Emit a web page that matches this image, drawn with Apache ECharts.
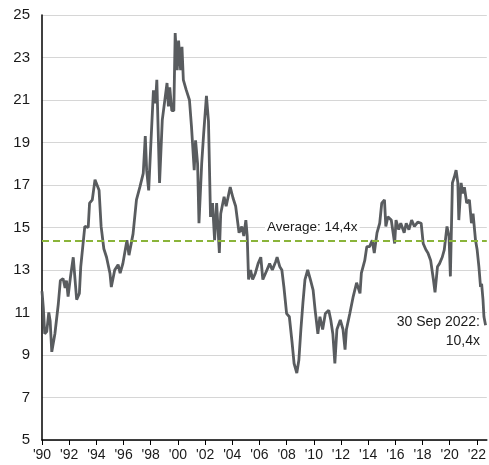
<!DOCTYPE html>
<html>
<head>
<meta charset="utf-8">
<script src="https://cdn.jsdelivr.net/npm/echarts@6/dist/echarts.min.js"></script>
<style>
  html, body { margin: 0; padding: 0; background: #fff; }
  #chart { width: 489px; height: 465px; }
</style>
</head>
<body>
<div id="chart"></div>
<script>
// forward P/E (decimal years)
const years = [
  1990.0, 1990.1, 1990.2, 1990.35, 1990.5, 1990.6, 1990.72, 1990.95, 1991.2, 1991.35,
  1991.55, 1991.7, 1991.8, 1991.92, 1992.1, 1992.3, 1992.45, 1992.55, 1992.75, 1992.85,
  1993.15, 1993.4, 1993.5, 1993.7, 1993.9, 1994.2, 1994.35, 1994.55, 1994.75, 1995.0,
  1995.1, 1995.35, 1995.6, 1995.75, 1995.95, 1996.25, 1996.4, 1996.7, 1996.95, 1997.2,
  1997.45, 1997.6, 1997.7, 1997.85, 1998.0, 1998.2, 1998.35, 1998.45, 1998.65, 1998.85,
  1999.2, 1999.3, 1999.4, 1999.55, 1999.7, 1999.8, 1999.95, 2000.05, 2000.2, 2000.3,
  2000.4, 2000.6, 2000.85, 2001.0, 2001.2, 2001.3, 2001.45, 2001.55, 2001.75, 2001.9,
  2002.1, 2002.25, 2002.4, 2002.55, 2002.7, 2002.85, 2003.05, 2003.15, 2003.4, 2003.55,
  2003.85, 2004.05, 2004.25, 2004.5, 2004.7, 2004.85, 2005.0, 2005.1, 2005.2, 2005.35,
  2005.5, 2005.7, 2005.9, 2006.1, 2006.25, 2006.45, 2006.75, 2006.95, 2007.2, 2007.3,
  2007.5, 2007.65, 2007.8, 2008.0, 2008.2, 2008.4, 2008.55, 2008.75, 2008.9, 2009.05,
  2009.2, 2009.35, 2009.55, 2009.75, 2009.95, 2010.1, 2010.3, 2010.45, 2010.65, 2010.85,
  2011.1, 2011.25, 2011.4, 2011.55, 2011.7, 2011.95, 2012.15, 2012.3, 2012.4, 2012.65,
  2012.9, 2013.15, 2013.4, 2013.5, 2013.75, 2013.9, 2014.1, 2014.3, 2014.45, 2014.65,
  2014.85, 2015.0, 2015.2, 2015.3, 2015.45, 2015.7, 2015.95, 2016.05, 2016.25, 2016.4,
  2016.65, 2016.8, 2017.0, 2017.2, 2017.4, 2017.65, 2017.9, 2018.05, 2018.25, 2018.4,
  2018.6, 2018.8, 2018.92, 2019.1, 2019.25, 2019.45, 2019.6, 2019.8, 2019.95, 2020.05,
  2020.2, 2020.35, 2020.47, 2020.6, 2020.67, 2020.84, 2020.96, 2021.08, 2021.25, 2021.45,
  2021.6, 2021.72, 2021.9, 2022.02, 2022.15, 2022.27, 2022.35, 2022.45, 2022.52, 2022.64
];
const pe = [
  12.0, 11.2, 10.0, 10.1, 11.0, 10.6, 9.15, 10.0, 11.4, 12.5,
  12.6, 12.15, 12.5, 11.75, 12.7, 13.6, 12.4, 11.6, 11.9, 13.15,
  15.05, 15.0, 16.15, 16.3, 17.25, 16.75, 15.05, 14.0, 13.6, 12.85,
  12.2, 13.0, 13.25, 12.85, 13.3, 14.4, 13.7, 14.7, 16.3, 16.9,
  17.55, 19.3, 17.7, 16.75, 18.8, 21.45, 20.85, 21.95, 17.1, 20.05,
  21.8, 20.7, 21.6, 20.5, 20.5, 24.15, 22.4, 23.8, 22.4, 23.5,
  21.95, 21.5, 21.0, 19.75, 17.7, 19.1, 18.0, 15.2, 18.0, 19.45,
  21.2, 20.0, 15.5, 16.15, 14.4, 16.15, 13.8, 15.65, 16.45, 16.0,
  16.9, 16.4, 16.0, 14.75, 15.05, 14.6, 15.35, 14.6, 12.55, 13.0,
  12.55, 12.85, 13.3, 13.6, 12.55, 12.85, 13.3, 13.0, 13.4, 13.6,
  13.15, 13.0, 12.2, 10.95, 10.8, 9.6, 8.6, 8.15, 8.75, 10.2,
  11.45, 12.55, 13.0, 12.55, 12.05, 11.1, 10.0, 10.8, 10.2, 10.95,
  11.1, 10.65, 10.0, 8.6, 10.2, 10.65, 10.2, 9.25, 10.2, 10.95,
  11.75, 12.4, 11.9, 12.85, 13.45, 14.1, 14.1, 14.4, 13.8, 14.75,
  15.2, 16.15, 16.3, 15.05, 15.5, 15.35, 14.25, 15.35, 14.9, 15.2,
  14.75, 15.2, 14.9, 15.35, 15.05, 15.25, 15.2, 14.25, 13.95, 13.8,
  13.45, 12.55, 11.95, 13.15, 13.3, 13.6, 13.95, 15.05, 14.6, 12.7,
  17.1, 17.4, 17.7, 17.1, 15.35, 17.1, 16.6, 16.9, 16.15, 16.3,
  15.2, 15.65, 14.4, 13.95, 13.15, 12.2, 12.35, 11.6, 10.8, 10.4
];
const average = 14.4;
const xTickYears = [1990, 1992, 1994, 1996, 1998, 2000, 2002, 2004, 2006, 2008, 2010,
  2012, 2014, 2016, 2018, 2020, 2022];

const chart = echarts.init(document.getElementById('chart'));
const font = 'Liberation Sans, Arial, sans-serif';

chart.setOption({
  animation: false,
  grid: { left: 42, right: 0, top: 15, bottom: 25 },
  xAxis: {
    type: 'value',
    min: 1990,
    max: 2022.73,
    splitLine: { show: false },
    axisLine: { lineStyle: { color: '#000', width: 1.5 } },
    axisTick: { customValues: xTickYears, length: 5, lineStyle: { color: '#000' } },
    axisLabel: {
      customValues: xTickYears,
      formatter: v => "'" + String(Math.round(v)).slice(2),
      color: '#1a1a1a',
      fontFamily: font,
      fontSize: 14,
      margin: 8
    }
  },
  yAxis: {
    type: 'value',
    min: 5,
    max: 25,
    interval: 2,
    axisLine: { show: true, lineStyle: { color: '#000', width: 1.5 } },
    axisTick: { show: false },
    splitLine: { lineStyle: { color: '#d6d6d6', width: 1 } },
    axisLabel: { color: '#1a1a1a', fontFamily: font, fontSize: 15, margin: 12 }
  },
  series: [{
    type: 'line',
    data: years.map((y, i) => [y, pe[i]]),
    showSymbol: false,
    lineStyle: { color: '#595c5f', width: 2.8 },
    z: 3,
    markLine: {
      silent: true,
      symbol: 'none',
      label: { show: false },
      lineStyle: { color: '#8ab43a', type: [7, 4], width: 2 },
      data: [{ yAxis: average }]
    }
  }],
  graphic: [
    {
      type: 'text', left: 265, top: 219, z: 1,
      style: { text: 'Average: 14,4x', fill: '#1a1a1a', font: '13.5px ' + font,
        backgroundColor: '#fff', padding: [1, 2, 1, 2] }
    },
    {
      type: 'text', right: 9, top: 315, z: 10,
      style: { text: '30 Sep 2022:', fill: '#1a1a1a', font: '14px ' + font }
    },
    {
      type: 'text', right: 9, top: 334, z: 10,
      style: { text: '10,4x', fill: '#1a1a1a', font: '14px ' + font }
    }
  ]
});
</script>
</body>
</html>
